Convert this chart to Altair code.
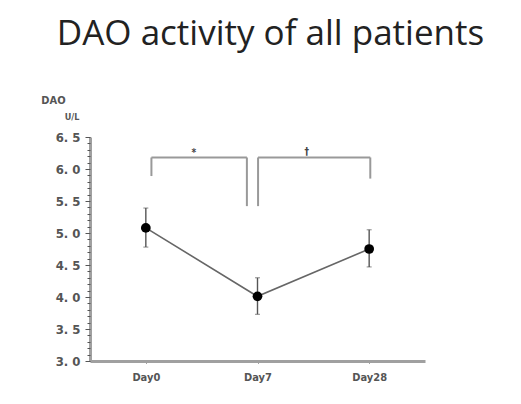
import altair as alt
import pandas as pd

# Data
days = ["Day0", "Day7", "Day28"]
day_idx = [0, 1, 2]
mean = [5.08, 4.01, 4.75]
err_low = [4.78, 3.73, 4.47]
err_high = [5.39, 4.30, 5.05]

# Significance brackets (x in category-index units, y in U/L)
br_x = [0.05, 0.05, 0.905, 1.005, 1.005, 2.01]
br_x2 = [0.905, 0.05, 0.905, 2.01, 1.005, 2.01]
br_y = [6.18, 5.89, 5.42, 6.18, 5.42, 5.85]
br_y2 = [6.18, 6.18, 6.18, 6.18, 6.18, 6.18]
sig_x = [0.43, 1.44]
sig_y = [6.25, 6.26]
sig_label = ["*", "†"]

y_major = [3.0, 3.5, 4.0, 4.5, 5.0, 5.5, 6.0, 6.5]
y_minor = [round(3.0 + 0.1 * i, 1) for i in range(36)]

df = pd.DataFrame({"day": days, "idx": day_idx, "mean": mean, "lo": err_low, "hi": err_high})
br = pd.DataFrame({"x": br_x, "x2": br_x2, "y": br_y, "y2": br_y2})
sig = pd.DataFrame({"x": sig_x, "y": sig_y, "t": sig_label})

LABEL_FONT = "DejaVu Sans Condensed"
GRAY = "#555555"
AXIS_GRAY = "#a0a0a0"

xs = alt.Scale(domain=[-0.5, 2.5], nice=False, zero=False)
ys = alt.Scale(domain=[3.0, 6.5], nice=False, zero=False)

x_axis = alt.Axis(
    values=day_idx, title=None, grid=False,
    labelExpr="['Day0','Day7','Day28'][datum.value]",
    domainColor=AXIS_GRAY, domainWidth=3, tickColor="#444", tickSize=2, tickWidth=1,
    labelFont=LABEL_FONT, labelFontSize=11, labelFontWeight="bold", labelColor=GRAY,
    labelPadding=8,
)

y_axis_main = alt.Axis(
    values=y_major, grid=False, orient="left",
    labelExpr="replace(format(datum.value, '.1f'), '.', '. ')",
    title="DAO", titleAngle=0, titleX=-37, titleY=-37, titleAlign="center",
    titleBaseline="middle", titleFont=LABEL_FONT, titleFontSize=11,
    titleFontWeight="bold", titleColor=GRAY,
    domainColor=AXIS_GRAY, domainWidth=3, tickColor=GRAY, tickSize=5, tickWidth=1,
    labelFont=LABEL_FONT, labelFontSize=13, labelFontWeight="bold", labelColor=GRAY,
    labelPadding=5,
)

y_axis_minor = alt.Axis(
    values=y_minor, grid=False, orient="left", labels=False, domain=False, title=None,
    tickColor=GRAY, tickSize=3, tickWidth=1,
)

def X(field, axis=x_axis):
    return alt.X(field, type="quantitative", scale=xs, axis=axis)

line = alt.Chart(df).mark_line(color="#666666", strokeWidth=1.6).encode(
    x=X("idx"), y=alt.Y("mean:Q", scale=ys, axis=y_axis_main)
)
minor = alt.Chart(df).mark_rule(color="#555555", strokeWidth=1.4).encode(
    x=X("idx"), y=alt.Y("lo:Q", scale=ys, axis=y_axis_minor), y2="hi:Q"
)
caps_lo = alt.Chart(df).mark_tick(color="#555555", orient="horizontal", size=5, thickness=1).encode(
    x=X("idx"), y=alt.Y("lo:Q", scale=ys, axis=None)
)
caps_hi = alt.Chart(df).mark_tick(color="#555555", orient="horizontal", size=5, thickness=1).encode(
    x=X("idx"), y=alt.Y("hi:Q", scale=ys, axis=None)
)
points = alt.Chart(df).mark_circle(color="black", opacity=1, size=95).encode(
    x=X("idx"), y=alt.Y("mean:Q", scale=ys, axis=None)
)
brackets = alt.Chart(br).mark_rule(color="#999999", strokeWidth=2).encode(
    x=X("x"), x2="x2", y=alt.Y("y:Q", scale=ys, axis=None), y2="y2"
)
signs = alt.Chart(sig).mark_text(font=LABEL_FONT, fontSize=10, fontWeight="bold", color="#444",
                                 baseline="middle").encode(
    x=X("x"), y=alt.Y("y:Q", scale=ys, axis=None), text="t:N"
)
unit = alt.Chart(df).mark_text(font=LABEL_FONT, fontSize=9, fontWeight="bold", color=GRAY,
                               baseline="middle", align="center").encode(
    x=alt.value(-18), y=alt.value(-20), text=alt.value("U/L")
).transform_filter("datum.idx == 0")

chart = alt.layer(line, minor, caps_lo, caps_hi, points, brackets, signs, unit).resolve_axis(
    y="independent"
).properties(
    width=335, height=224,
    autosize=alt.AutoSizeParams(type="none"),
    padding={"left": 82, "top": 129, "right": 88, "bottom": 35},
    title=alt.TitleParams(
        "DAO activity of all patients", font="Open Sans", fontSize=35, fontWeight="normal",
        color="#222222", anchor="middle", dx=13, offset=7, baseline="bottom",
    ),
).configure_view(stroke=None)

chart.save("out.html", embed_options={"renderer": "svg", "actions": False})
